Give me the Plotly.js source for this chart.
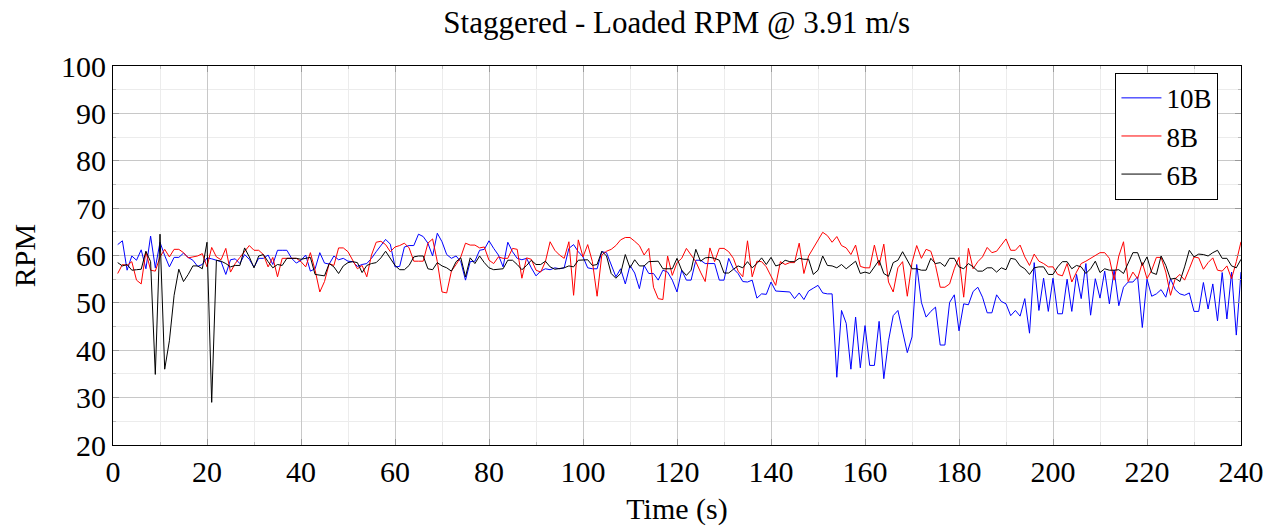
<!DOCTYPE html>
<html>
<head>
<meta charset="utf-8">
<script src="https://cdn.plot.ly/plotly-3.0.1.min.js"></script>
<style>html,body{margin:0;padding:0;background:#fff;}#chart{width:1272px;height:529px;}</style>
</head>
<body>
<div id="chart"></div>
<script>
const title = "Staggered - Loaded RPM @ 3.91 m/s";
const seriesNames = ["10B", "8B", "6B"];
const seriesColors = ["#0000ff", "#ff0000", "#000000"];
const xTickVals = [0, 20, 40, 60, 80, 100, 120, 140, 160, 180, 200, 220, 240];
const yTickVals = [20, 30, 40, 50, 60, 70, 80, 90, 100];

// Time stamps (s), one sample per second
const time = [
1,2,3,4,5,6,7,8,9,10,11,12,13,14,15,16,17,18,19,20,
21,22,23,24,25,26,27,28,29,30,31,32,33,34,35,36,37,38,39,40,
41,42,43,44,45,46,47,48,49,50,51,52,53,54,55,56,57,58,59,60,
61,62,63,64,65,66,67,68,69,70,71,72,73,74,75,76,77,78,79,80,
81,82,83,84,85,86,87,88,89,90,91,92,93,94,95,96,97,98,99,100,
101,102,103,104,105,106,107,108,109,110,111,112,113,114,115,116,117,118,119,120,
121,122,123,124,125,126,127,128,129,130,131,132,133,134,135,136,137,138,139,140,
141,142,143,144,145,146,147,148,149,150,151,152,153,154,155,156,157,158,159,160,
161,162,163,164,165,166,167,168,169,170,171,172,173,174,175,176,177,178,179,180,
181,182,183,184,185,186,187,188,189,190,191,192,193,194,195,196,197,198,199,200,
201,202,203,204,205,206,207,208,209,210,211,212,213,214,215,216,217,218,219,220,
221,222,223,224,225,226,227,228,229,230,231,232,233,234,235,236,237,238,239,240];

const rpm10B = [
62.3,63.1,56.9,59.9,59.0,61.2,57.2,64.1,57.4,62.8,60.0,57.6,59.6,59.6,60.5,59.6,59.0,57.7,58.1,59.5,
59.3,59.0,58.7,56.0,59.1,59.3,58.3,60.2,59.2,57.5,59.4,59.4,60.1,58.1,61.1,61.1,61.1,59.4,58.4,59.0,
60.1,56.7,57.2,60.6,58.4,58.2,59.9,59.1,59.4,58.8,58.7,57.7,58.1,58.3,59.4,60.8,62.0,63.4,62.4,57.6,
57.7,61.8,62.1,62.1,64.5,64.0,62.6,59.9,64.7,62.9,60.2,59.4,59.9,58.7,54.8,58.7,58.8,61.1,61.3,63.1,
61.5,60.1,57.6,62.8,60.8,59.4,59.1,59.4,57.4,55.7,56.7,57.2,57.0,57.4,57.2,57.4,61.5,62.3,60.8,59.7,
57.4,57.2,57.2,60.8,60.6,57.9,55.5,57.2,54.0,57.9,56.3,53.0,57.9,56.2,56.2,54.8,56.9,56.5,54.8,52.3,
56.9,54.8,54.8,59.0,59.0,58.3,58.3,58.3,54.8,54.8,59.4,57.2,56.2,54.5,54.4,54.8,51.0,51.9,51.8,54.4,
52.5,52.4,52.4,52.3,50.9,52.1,50.7,52.5,53.1,53.7,52.1,51.9,51.9,34.3,48.4,45.7,36.0,47.0,36.3,45.2,
36.8,36.8,46.1,34.0,42.0,47.3,48.4,43.8,39.5,42.8,58.1,50.1,47.0,48.2,49.1,41.1,41.1,50.1,51.7,44.1,
49.8,49.6,52.4,53.3,51.2,47.9,47.9,51.7,50.3,49.8,47.3,48.4,47.2,50.9,43.6,58.5,48.4,55.2,48.2,55.2,
47.7,47.7,55.0,48.2,56.0,50.9,58.3,47.4,55.1,51.0,56.7,49.8,56.9,49.4,53.3,54.4,54.4,55.5,44.8,55.0,
51.4,51.9,52.8,51.2,55.1,52.8,51.9,51.6,52.1,48.2,48.2,54.3,48.7,54.0,46.2,56.4,46.6,56.5,43.2,56.5];

const rpm8B = [
56.2,58.1,57.9,58.7,54.8,54.0,60.8,56.9,56.7,59.7,61.3,59.7,61.3,61.3,60.6,59.5,59.7,59.9,60.4,57.6,
61.7,59.7,59.1,61.5,56.5,58.3,59.6,60.9,62.1,61.1,61.1,60.2,57.6,59.6,55.5,59.4,59.4,59.4,59.4,58.7,
57.6,60.6,56.9,52.3,54.5,58.3,57.9,61.6,61.6,60.8,59.0,57.2,57.9,55.5,60.1,62.8,63.0,62.3,60.8,61.8,
62.1,62.6,61.6,58.8,58.8,58.8,62.6,63.5,58.7,52.3,52.1,56.7,58.1,59.7,62.6,62.2,62.2,61.6,61.8,59.0,
58.3,59.7,59.4,59.4,61.5,61.3,55.2,59.5,59.2,56.9,56.5,58.7,62.9,61.1,60.1,59.4,62.9,51.6,63.3,59.7,
62.3,58.7,51.4,60.1,60.9,61.3,62.1,63.3,63.8,63.8,63.0,62.1,60.1,61.5,53.3,50.9,50.7,59.9,55.8,58.5,
59.4,61.5,60.1,58.7,56.5,54.5,61.6,58.7,61.5,61.5,60.8,59.4,56.7,55.5,63.1,55.5,58.8,58.7,57.6,55.5,
53.7,58.7,58.1,58.5,58.5,62.6,56.2,59.9,61.6,63.3,64.9,64.2,62.8,64.0,62.1,61.6,60.2,62.2,57.7,57.4,
57.4,62.2,57.9,62.4,54.4,52.3,57.4,58.7,51.4,58.5,62.1,59.4,61.3,60.9,57.9,53.3,53.3,54.0,57.2,59.6,
51.2,61.5,57.2,58.7,59.7,61.7,60.6,60.9,62.2,63.5,61.1,61.1,62.2,59.7,57.9,60.3,58.8,58.3,57.6,57.6,
56.0,55.7,58.3,54.4,56.5,58.3,58.8,59.4,59.9,60.6,60.6,59.4,54.8,59.9,62.9,54.5,56.5,55.1,58.5,55.1,
56.9,59.6,59.6,56.5,51.6,55.1,56.0,54.8,57.2,59.7,59.5,57.1,58.5,59.5,56.9,56.7,57.8,55.1,58.7,62.9];

const rpm6B = [
58.5,57.8,58.1,56.9,57.0,57.1,60.9,58.7,34.9,64.5,36.0,42.0,51.6,57.1,54.5,56.0,57.8,57.8,57.2,62.8,
29.0,59.0,58.8,58.3,57.6,57.9,57.9,61.6,59.7,57.4,59.9,60.2,58.7,57.4,58.1,57.9,59.4,59.4,59.4,59.2,
59.4,59.6,56.0,55.8,55.7,58.3,57.6,56.2,57.8,58.5,58.7,58.5,56.4,57.9,58.3,58.5,59.5,60.9,59.4,57.9,
57.0,57.0,57.9,59.7,59.9,59.9,57.2,57.0,58.5,57.8,57.4,56.7,58.7,59.5,55.5,59.5,58.3,59.9,58.5,57.4,
57.0,57.1,57.2,59.0,59.0,58.1,57.0,57.9,59.0,58.1,58.1,58.8,57.6,57.1,57.2,57.4,57.8,57.6,59.0,59.0,
59.1,57.9,58.1,60.9,59.9,56.2,55.2,56.2,60.2,57.4,59.1,57.8,57.8,58.7,58.7,58.8,57.2,57.2,57.2,59.4,
56.9,55.8,56.9,61.3,58.8,59.5,59.6,59.4,59.0,56.3,56.3,57.1,57.8,57.4,58.7,57.4,58.3,59.5,58.1,59.6,
57.8,58.1,59.0,58.7,58.7,59.4,59.2,59.2,56.0,56.9,59.9,57.9,57.8,57.4,58.1,57.2,58.1,58.8,56.2,56.5,
56.2,57.6,59.0,56.2,55.6,58.5,59.0,60.8,59.0,57.2,57.2,56.9,56.9,59.4,58.3,58.5,57.7,59.4,59.4,57.6,
57.2,58.3,57.6,56.7,56.7,57.4,57.4,56.5,57.4,57.0,59.4,59.2,57.8,57.2,56.0,57.4,57.6,57.6,56.0,56.0,
57.6,58.7,58.7,57.2,57.9,57.6,56.2,57.2,58.8,56.4,57.2,56.9,56.9,57.0,56.2,58.3,60.6,60.6,57.9,59.7,
56.4,56.0,59.9,57.9,55.0,55.2,54.5,57.6,61.1,59.7,60.3,60.2,59.9,60.6,61.1,59.4,59.4,57.8,57.4,59.2];

const seriesValues = [rpm10B, rpm8B, rpm6B];

const fontFamily = "'Liberation Serif', 'Times New Roman', serif";

const traces = seriesNames.map((name, i) => ({
  x: time,
  y: seriesValues[i],
  name: name,
  type: 'scatter',
  mode: 'lines',
  line: {color: seriesColors[i], width: 1}
}));

const axisCommon = {
  showline: true,
  linecolor: '#000',
  linewidth: 1,
  mirror: 'ticks',
  ticks: 'inside',
  ticklen: 6,
  tickcolor: '#999',
  tickwidth: 1,
  showgrid: true,
  gridcolor: '#c8c8c8',
  gridwidth: 1,
  zeroline: false,
  tickfont: {family: fontFamily, size: 30, color: '#000'}
};

const layout = {
  width: 1272,
  height: 529,
  margin: {l: 113, r: 31, t: 66, b: 84},
  paper_bgcolor: '#fff',
  plot_bgcolor: '#fff',
  font: {family: fontFamily, color: '#000'},
  title: {text: title, font: {family: fontFamily, size: 31, color: '#000'}, x: 0.532, xanchor: 'center', y: 0.958, yanchor: 'middle'},
  xaxis: Object.assign({}, axisCommon, {
    range: [0, 240],
    tickvals: xTickVals,
    minor: {dtick: 10, showgrid: true, gridcolor: '#ececec', ticks: 'inside', ticklen: 3, tickcolor: '#bbb'},
    title: {text: 'Time (s)', font: {family: fontFamily, size: 30, color: '#000'}, standoff: 10}
  }),
  yaxis: Object.assign({}, axisCommon, {
    range: [20, 100],
    tickvals: yTickVals,
    minor: {dtick: 5, showgrid: true, gridcolor: '#ececec', ticks: 'inside', ticklen: 3, tickcolor: '#bbb'},
    title: {text: 'RPM', font: {family: fontFamily, size: 30, color: '#000'}, standoff: 16}
  }),
  legend: {
    x: 0.98, y: 0.982, xanchor: 'right', yanchor: 'top',
    bgcolor: '#fff', bordercolor: '#000', borderwidth: 1,
    font: {family: fontFamily, size: 27, color: '#000'},
    tracegroupgap: 0,
    itemwidth: 40
  },
  showlegend: true
};

Plotly.newPlot('chart', traces, layout, {displayModeBar: false, staticPlot: true});
</script>
</body>
</html>
